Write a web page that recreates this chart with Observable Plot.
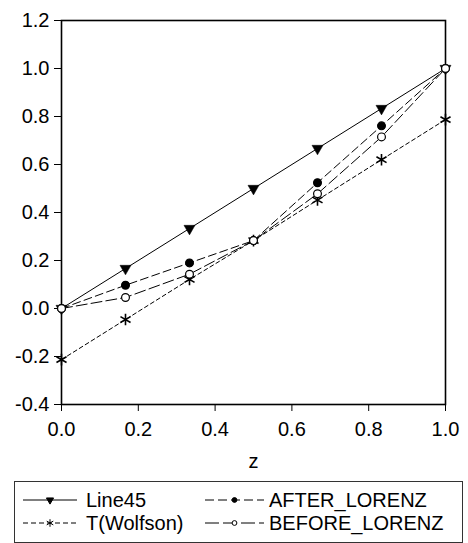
<!DOCTYPE html>
<html>
<head>
<meta charset="utf-8">
<script src="https://cdn.jsdelivr.net/npm/d3@7"></script>
<script src="https://cdn.jsdelivr.net/npm/@observablehq/plot@0.6"></script>
<style>
  html, body { margin: 0; padding: 0; background: white; }
  #wrap { position: relative; width: 468px; height: 543px; font-family: "Liberation Sans", Arial, sans-serif; }
  #legend { position: absolute; left: 14px; top: 481px; width: 449px; height: 62px; border: 1px solid #333; box-sizing: border-box; font-size: 20px; color: black; }
  .item { position: absolute; height: 22px; display: flex; align-items: center; white-space: nowrap; }
  .item svg { display: block; }
</style>
</head>
<body>
<div id="wrap"></div>
<script>
const z = [0, 1/6, 2/6, 0.5, 4/6, 5/6, 1];
const line45 = [0, 0.1667, 0.3333, 0.5, 0.6667, 0.8333, 1.0];
const afterLorenz = [0, 0.097, 0.19, 0.283, 0.524, 0.761, 1.0];
const beforeLorenz = [0, 0.046, 0.143, 0.283, 0.478, 0.715, 1.0];
const tWolfson = [-0.213, -0.046, 0.121, 0.283, 0.452, 0.62, 0.787];

const xTicks = [0, 0.2, 0.4, 0.6, 0.8, 1.0];
const yTicks = [-0.4, -0.2, 0, 0.2, 0.4, 0.6, 0.8, 1.0, 1.2];

const seriesNames = ["Line45", "T(Wolfson)", "AFTER_LORENZ", "BEFORE_LORENZ"];
const seriesValues = [line45, tWolfson, afterLorenz, beforeLorenz];
const seriesDash = [null, "4,3", "8,4", "11,4"];
const seriesSymbol = ["triangle", "asterisk", "circle", "circle"];
const seriesFill = ["black", "none", "black", "white"];

const fmt = d => d.toFixed(1);

const marks = [Plot.frame({stroke: "black", strokeWidth: 1.6})];
seriesNames.forEach((name, i) => {
  const rows = z.map((zz, j) => ({z: zz, v: seriesValues[i][j]}));
  marks.push(Plot.line(rows, {x: "z", y: "v", stroke: "black", strokeWidth: 1, strokeDasharray: seriesDash[i]}));
  const opts = {x: "z", y: "v", symbol: seriesSymbol[i], stroke: "black"};
  if (seriesSymbol[i] === "triangle") Object.assign(opts, {fill: "black", r: 4.1, rotate: 180, strokeWidth: 0.5});
  else if (seriesSymbol[i] === "asterisk") Object.assign(opts, {fill: "none", r: 5.5, strokeWidth: 1.6});
  else Object.assign(opts, {fill: seriesFill[i], r: 3.9, strokeWidth: 1.2});
  marks.push(Plot.dot(rows, opts));
});

const chart = Plot.plot({
  width: 468,
  height: 475,
  marginLeft: 61,
  marginRight: 23,
  marginTop: 20,
  marginBottom: 71,
  style: {fontFamily: "'Liberation Sans', Arial, sans-serif", fontSize: "20px", color: "black", background: "white", overflow: "visible"},
  x: {domain: [0, 1], ticks: xTicks, tickFormat: fmt, tickSize: 7, tickPadding: 10, label: "z", labelAnchor: "center", labelArrow: "none", labelOffset: 63},
  y: {domain: [-0.4, 1.2], ticks: yTicks, tickFormat: fmt, tickSize: 7, tickPadding: 5, label: null},
  marks
});
const wrap = document.getElementById("wrap");
wrap.appendChild(chart);

// legend
const legend = document.createElement("div");
legend.id = "legend";
wrap.appendChild(legend);
const legendPos = [
  {left: 8, top: 7}, {left: 8, top: 30}, {left: 190, top: 7}, {left: 190, top: 30}
];
const swW = [54, 54, 59, 59];
seriesNames.forEach((name, i) => {
  const item = document.createElement("div");
  item.className = "item";
  item.style.left = legendPos[i].left + "px";
  item.style.top = legendPos[i].top + "px";
  const w = swW[i];
  const svg = d3.create("svg").attr("width", w).attr("height", 14);
  svg.append("line").attr("x1", 0).attr("x2", w).attr("y1", 7).attr("y2", 7)
    .attr("stroke", "black").attr("stroke-width", 1)
    .attr("stroke-dasharray", seriesDash[i] ? (i === 1 ? "5,3" : i === 2 ? "9,4" : "14,4") : null);
  const sym = {triangle: d3.symbolTriangle, asterisk: d3.symbolAsterisk, circle: d3.symbolCircle}[seriesSymbol[i]];
  const size = seriesSymbol[i] === "asterisk" ? 40 : seriesSymbol[i] === "triangle" ? 22 : 18;
  svg.append("path").attr("d", d3.symbol(sym, size)())
    .attr("transform", `translate(${w/2},7)` + (seriesSymbol[i] === "triangle" ? " rotate(180)" : ""))
    .attr("fill", seriesFill[i]).attr("stroke", "black").attr("stroke-width", 1);
  item.appendChild(svg.node());
  const span = document.createElement("span");
  span.textContent = name;
  span.style.marginLeft = (i < 2 ? 9 : 5) + "px";
  item.appendChild(span);
  legend.appendChild(item);
});
</script>
</body>
</html>
